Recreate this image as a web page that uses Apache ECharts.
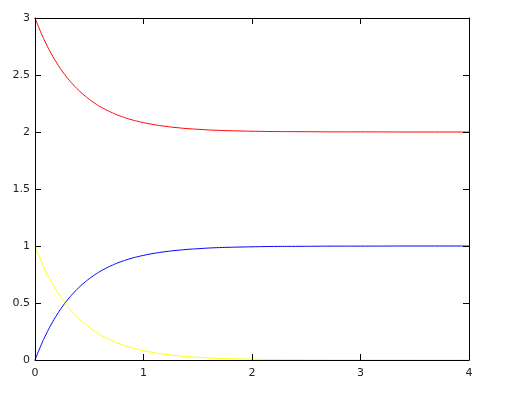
<!DOCTYPE html>
<html><head><meta charset="utf-8">
<script src="https://cdn.jsdelivr.net/npm/echarts@6/dist/echarts.min.js"></script>
<style>html,body{margin:0;padding:0;background:#fff}#c{width:507px;height:400px}</style>
</head><body><div id="c"></div>
<script>
const xs = [0,0.05,0.1,0.15,0.2,0.25,0.3,0.35,0.4,0.45,0.5,0.55,0.6,0.65,0.7,0.75,0.8,0.85,0.9,0.95,1.0,1.1,1.2,1.3,1.4,1.5,1.6,1.7,1.8,1.9,2.0,2.2,2.4,2.6,2.8,3.0,3.5,4.0];
const redVals = [3,2.883,2.779,2.687,2.607,2.535,2.472,2.417,2.368,2.325,2.287,2.253,2.223,2.197,2.174,2.153,2.135,2.119,2.105,2.093,2.082,2.064,2.050,2.039,2.030,2.024,2.018,2.014,2.011,2.009,2.007,2.004,2.003,2.002,2.001,2.001,2,2];
const blueVals = [0,0.117,0.221,0.313,0.393,0.465,0.528,0.583,0.632,0.675,0.713,0.747,0.777,0.803,0.826,0.847,0.865,0.881,0.895,0.907,0.918,0.936,0.950,0.961,0.970,0.976,0.982,0.986,0.989,0.991,0.993,0.996,0.997,0.998,0.999,0.999,1,1];
const yellowVals = [1,0.883,0.779,0.687,0.607,0.535,0.472,0.417,0.368,0.325,0.287,0.253,0.223,0.197,0.174,0.153,0.135,0.119,0.105,0.093,0.082,0.064,0.050,0.039,0.030,0.024,0.018,0.014,0.011,0.009,0.007,0.004,0.003,0.002,0.001,0.001,0,0];
const pairs = v => xs.map((x,i)=>[x,v[i]]);
const font = {fontFamily:'DejaVu Sans', fontSize:11, color:'#222'};
const axLine = {show:true, onZero:false, lineStyle:{color:'#000', width:1}};
const tick = {show:true, inside:true, length:6, lineStyle:{color:'#000', width:1}};
const chart = echarts.init(document.getElementById('c'), null, {renderer:'canvas'});
chart.setOption({
  animation:false,
  grid:{left:35, right:38, top:18, bottom:40, show:false},
  xAxis:[
    {type:'value', min:0, max:4, interval:1, position:'bottom', axisLine:axLine, axisTick:tick, splitLine:{show:false}, axisLabel:Object.assign({margin:8}, font), z:10},
    {type:'value', min:0, max:4, interval:1, position:'top', axisLine:axLine, axisTick:tick, splitLine:{show:false}, axisLabel:{show:false}, z:10}
  ],
  yAxis:[
    {type:'value', min:0, max:3, interval:0.5, position:'left', axisLine:axLine, axisTick:tick, splitLine:{show:false}, axisLabel:Object.assign({margin:5}, font), z:10},
    {type:'value', min:0, max:3, interval:0.5, position:'right', axisLine:axLine, axisTick:tick, splitLine:{show:false}, axisLabel:{show:false}, z:10}
  ],
  series:[
    {type:'line', data:pairs(redVals), showSymbol:false, smooth:true, lineStyle:{color:'#ff0000', width:1}, z:2},
    {type:'line', data:pairs(blueVals), showSymbol:false, smooth:true, lineStyle:{color:'#0000ff', width:1}, z:2},
    {type:'line', data:pairs(yellowVals), showSymbol:false, smooth:true, lineStyle:{color:'#ffff00', width:1}, z:2}
  ]
});
</script></body></html>
